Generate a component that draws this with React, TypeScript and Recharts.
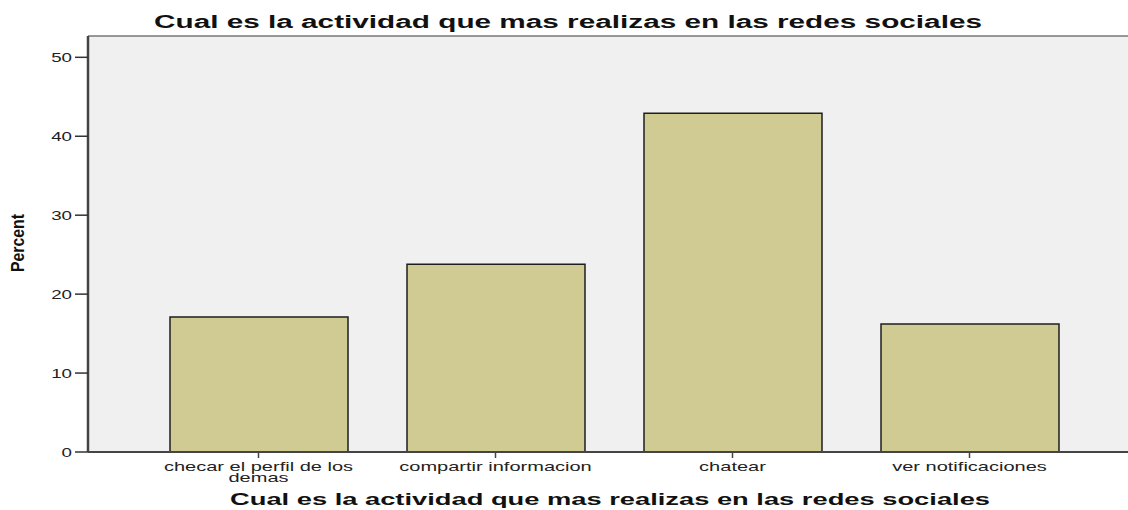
import React from "react";
import {
  BarChart,
  Bar,
  XAxis,
  YAxis,
  CartesianGrid,
  ReferenceLine,
} from "recharts";

const categories = [
  "checar el perfil de los demas",
  "compartir informacion",
  "chatear",
  "ver notificaciones",
];
const percents = [17.1, 23.8, 42.9, 16.2];
const yTicks = [0, 10, 20, 30, 40, 50];
const yMax = 52.7;
const title = "Cual es la actividad que mas realizas en las redes sociales";
const yTitle = "Percent";

const data = categories.map((name, i) => ({ name, Percent: percents[i] }));

const FONT = "'Liberation Sans', Arial, Helvetica, sans-serif";
const STRETCH = 1.67;

// naive word wrap by character count
const wrap = (s: string, max = 24) => {
  const lines: string[] = [];
  let cur = "";
  s.split(" ").forEach((w) => {
    const next = cur ? cur + " " + w : w;
    if (next.length > max && cur) {
      lines.push(cur);
      cur = w;
    } else cur = next;
  });
  if (cur) lines.push(cur);
  return lines;
};

const XTick = (props: any) => {
  const { x, y, payload } = props;
  const lines = wrap(String(payload.value));
  return (
    <g transform={`translate(${x},${y})`}>
      <text
        transform={`scale(${STRETCH},1)`}
        textAnchor="middle"
        fontFamily={FONT}
        fontSize={12}
        fill="#222"
      >
        {lines.map((l, i) => (
          <tspan key={i} x={0} y={13 + i * 11}>
            {l}
          </tspan>
        ))}
      </text>
    </g>
  );
};

const YTick = (props: any) => {
  const { x, y, payload } = props;
  return (
    <g transform={`translate(${x},${y})`}>
      <text
        transform="scale(1.5,1)"
        textAnchor="end"
        y={4.5}
        fontFamily={FONT}
        fontSize={12.5}
        fill="#222"
      >
        {payload.value}
      </text>
    </g>
  );
};

export default function App() {
  return (
    <div style={{ position: "absolute", left: 0, top: 0, width: 1128, height: 510, background: "#fff" }}>
      <BarChart
        width={1128}
        height={510}
        data={data}
        margin={{ top: 36, right: 0, left: 0, bottom: 0 }}
      >
        <CartesianGrid horizontal={false} vertical={false} fill="#EFF0EF" />
        <XAxis
          dataKey="name"
          height={58}
          padding={{ left: 52, right: 40 }}
          tick={<XTick />}
          tickSize={6}
          tickMargin={0}
          interval={0}
          axisLine={{ stroke: "#444", strokeWidth: 2 }}
          tickLine={{ stroke: "#444", strokeWidth: 1.5 }}
        />
        <YAxis
          width={88}
          domain={[0, yMax]}
          ticks={yTicks}
          allowDataOverflow
          tick={<YTick />}
          tickSize={13}
          tickMargin={3}
          axisLine={{ stroke: "#444", strokeWidth: 2.5 }}
          tickLine={{ stroke: "#333", strokeWidth: 1.5 }}
        />
        <ReferenceLine y={yMax} stroke="#777" strokeWidth={1.5} />
        <Bar
          dataKey="Percent"
          fill="#D0CB92"
          stroke="#1E1E1E"
          strokeWidth={1.5}
          barSize={178}
          isAnimationActive={false}
        />
      </BarChart>
      <svg
        width={1128}
        height={510}
        style={{ position: "absolute", left: 0, top: 0, pointerEvents: "none" }}
      >
        <text
          x={154}
          y={28}
          textLength={828}
          lengthAdjust="spacingAndGlyphs"
          fontFamily={FONT}
          fontWeight="bold"
          fontSize={18}
          fill="#111"
        >
          {title}
        </text>
        <text
          x={230}
          y={505}
          textLength={760}
          lengthAdjust="spacingAndGlyphs"
          fontFamily={FONT}
          fontWeight="bold"
          fontSize={17}
          fill="#111"
        >
          {title}
        </text>
        <text
          transform="translate(24,243) scale(1.25,1) rotate(-90)"
          textAnchor="middle"
          textLength={58}
          lengthAdjust="spacingAndGlyphs"
          fontFamily={FONT}
          fontWeight="bold"
          fontSize={15}
          fill="#111"
        >
          {yTitle}
        </text>
      </svg>
    </div>
  );
}
